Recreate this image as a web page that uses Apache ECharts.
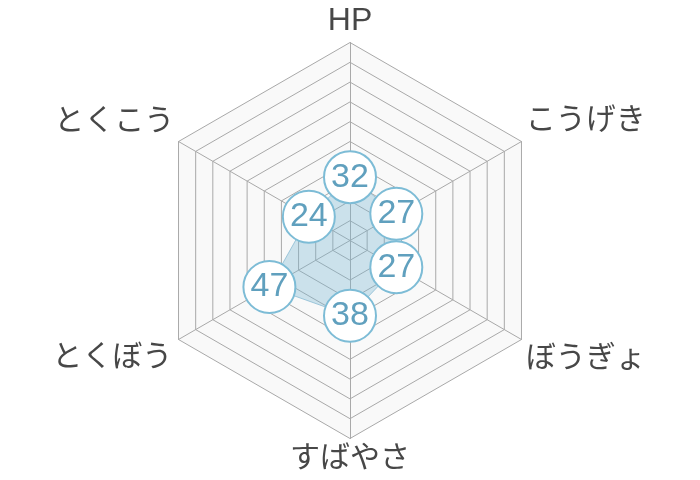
<!DOCTYPE html>
<html>
<head>
<meta charset="utf-8">
<script src="https://cdn.jsdelivr.net/npm/echarts@6/dist/echarts.min.js"></script>
<style>html,body{margin:0;padding:0;background:#fff}#c{width:700px;height:480px}</style>
</head>
<body>
<div id="c"></div>
<script>
// Indicators listed counter-clockwise starting from the top (ECharts radar order)
const categories = ['HP', 'とくこう', 'とくぼう', 'すばやさ', 'ぼうぎょ', 'こうげき'];
const values = [32, 24, 47, 38, 27, 27];
const maxValue = 100;

const padKeys = ['t', 'ul', 'll', 'b', 'lr', 'ur'];
const nameFont = '"Liberation Sans", "Noto Sans CJK JP", sans-serif';

const chart = echarts.init(document.getElementById('c'));
chart.setOption({
  animation: false,
  backgroundColor: '#ffffff',
  radar: {
    center: [350, 240.5],
    radius: 198,
    splitNumber: 10,
    shape: 'polygon',
    nameGap: 5,
    indicator: categories.map(n => ({ name: n, max: maxValue, min: 0 })),
    axisName: {
      formatter: function (name) {
        const i = categories.indexOf(name);
        return '{' + padKeys[i] + '|' + name + '}';
      },
      rich: {
        t:  { fontSize: 32, lineHeight: 32, color: '#474747', fontFamily: nameFont },
        b:  { fontSize: 30, lineHeight: 30, color: '#474747', fontFamily: nameFont },
        ur: { fontSize: 30, lineHeight: 30, color: '#474747', fontFamily: nameFont, padding: [0, 0, 36, 0] },
        ul: { fontSize: 30, lineHeight: 30, color: '#474747', fontFamily: nameFont, padding: [0, 0, 34, 0] },
        lr: { fontSize: 30, lineHeight: 30, color: '#474747', fontFamily: nameFont, padding: [34, 0, 0, 0] },
        ll: { fontSize: 30, lineHeight: 30, color: '#474747', fontFamily: nameFont, padding: [32, 2, 0, 0] }
      }
    },
    splitArea: { show: true, areaStyle: { color: ['#f9f9f9'] } },
    splitLine: { lineStyle: { color: '#a9a9a9', width: 1 } },
    axisLine: { lineStyle: { color: '#a9a9a9', width: 1 } }
  },
  series: [{
    type: 'radar',
    symbol: 'circle',
    symbolSize: 52,
    lineStyle: { color: 'rgba(110,170,200,0.6)', width: 1 },
    areaStyle: { color: 'rgba(120,180,210,0.5)' },
    itemStyle: { color: '#ffffff', borderColor: '#7dbcd6', borderWidth: 2 },
    label: {
      show: true,
      position: 'inside',
      fontSize: 34,
      color: '#60a0be',
      fontFamily: '"Liberation Sans", Arial, sans-serif'
    },
    data: [{ value: values, name: 'stats' }]
  }]
});
</script>
</body>
</html>
